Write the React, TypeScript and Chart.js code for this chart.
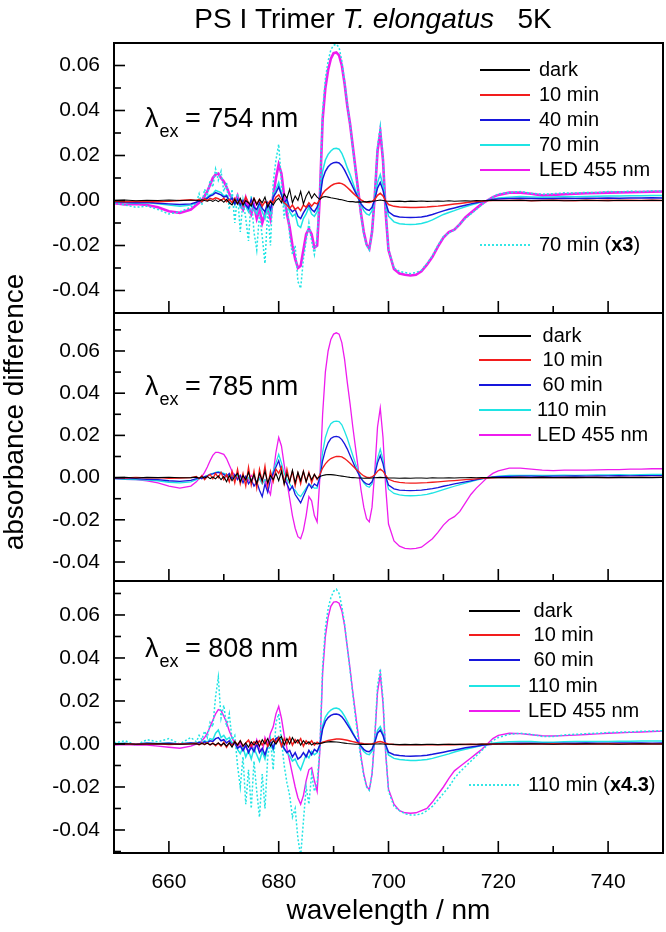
import React, { useEffect, useRef } from "react";
import { Chart, registerables } from "chart.js";

Chart.register(...registerables);

const FONT = "'Liberation Sans', Arial, Helvetica, sans-serif";

// ---------- shared axis data ----------
const WAVELENGTH = [
  650, 652, 654, 656, 658, 660, 662, 664,
  665, 665.5, 666, 666.5, 667, 667.5, 668, 668.5, 669, 669.5,
  670, 670.5, 671, 671.5, 672, 672.5, 673, 673.5, 674, 674.5,
  675, 675.5, 676, 676.5, 677, 677.5, 678, 678.5, 679, 679.5,
  680, 680.5, 681, 681.5, 682, 682.5, 683, 683.5, 684, 684.5,
  685, 685.5, 686, 686.5, 687, 687.5,
  688, 688.5, 689, 689.5, 690, 690.5, 691, 691.5, 692, 692.5,
  693, 693.5, 694, 694.5, 695, 695.5, 696, 696.5, 697, 697.5,
  698, 698.5, 699, 699.5, 700,
  701, 702, 703, 704, 705, 706, 707, 708, 709, 710,
  711, 712, 713, 714, 715, 716, 717, 718, 719, 720,
  722, 724, 726, 728, 730, 732, 734, 736, 738, 740, 742, 744, 746, 748, 750,
];
const X_TICKS = [660, 680, 700, 720, 740];
const X_MINOR = [670, 690, 710, 730];
const Y_TICKS = [-0.04, -0.02, 0, 0.02, 0.04, 0.06];
const Y_MINOR = [-0.05, -0.03, -0.01, 0.01, 0.03, 0.05, 0.07];
const X_RANGE = [650, 750];
const Y_RANGE_754 = [-0.05, 0.07];
const Y_RANGE_785 = [-0.049, 0.078];
const Y_RANGE_808 = [-0.0507, 0.0758];

// ---------- absorbance differences, in units of 1e-3 ----------
// λex = 754 nm
const EX754_DARK = [
  0, 0.2, -0.1, 0.1, 0, 0.2, 0, 0.1,
  0.1, -0.2, 0.3, 0, -0.3, 0.2, -0.4, 0.3, -0.5, 0.4,
  -0.8, 0.5, -1, -2, 0.5, -1.5, 1, -2, 0, -1,
  -2.5, 1, -2, 0.5, -1, 1.5, -3, -0.5, -2, 0,
  1, -1, 3, 1, 5, -1, 2, 0, 4, -1.5,
  2, 4, 1, 3, 1.5, 0.5,
  1.5, 1.8, 1.5, 1.2, 1, 0.8, 0.5, 0.3, 0, -0.3,
  -0.5, -0.5, -0.7, -0.6, -0.7, -0.5, -0.6, -0.4, -0.3, -0.2,
  0, 0.2, 0, -0.2, -0.3,
  -0.4, -0.3, -0.5, -0.3, -0.4, -0.2, -0.4, -0.3, -0.2, -0.3,
  -0.1, -0.3, -0.2, -0.1, -0.2, 0, -0.1, 0, 0.1, 0,
  0, 0.1, -0.1, 0, 0.1, -0.1, 0, 0.1, 0, -0.1, 0.1, 0, 0, 0.1, 0,
];
const EX754_10MIN = [
  -0.3, -0.5, -0.3, -0.4, -0.5, -0.3, 0, 0.3,
  0, 0.5, -0.5, 0.8, 0, 1, 0.5, 1.2, 0.8, 0,
  1, -0.5, 0.5, -1, 1, -1.5, 0.5, -2, 1.5, -1,
  -2, 1, -1.5, 0.5, -2.5, -0.5, -1.5, 0, -1, 1.5,
  2.5, 0.5, -1, -2, -3.5, -2, -4, -3, -4.5, -2,
  -3, -1, -2.5, -1, -1.5, 0.5,
  3, 4.5, 5.5, 6.5, 7.2, 7.6, 7.8, 7.5, 6.8, 5.8,
  4.6, 3.4, 2.2, 1.2, 0.3, -0.4, -0.8, -0.9, -0.5, 0.5,
  2.3, 3.2, 2, -0.2, -1.8,
  -2.6, -2.9, -3, -3.1, -3.1, -3, -2.9, -2.7, -2.5, -2.2,
  -1.9, -1.6, -1.3, -1, -0.7, -0.5, -0.3, -0.1, 0, 0,
  0, 0.1, -0.1, 0, 0.1, 0, -0.1, 0.1, 0, 0.1, 0, 0.1, 0, 0.1, 0,
];
const EX754_40MIN = [
  -0.5, -0.8, -1, -0.8, -1.2, -1.5, -1.8, -1.5,
  -0.8, 0, -0.5, 0.5, 1, 2, 2.5, 3.5, 3, 2.5,
  1.5, 2, 0, 1, -1.5, 0.5, -2, 0, -2, -3.5,
  0.5, -3, -4, -1, -3.5, -5, -1, -4, 1.5, 3.5,
  6, 2.5, -1, 0.5, -3.5, -5, -4, -7, -8, -5.5,
  -3.5, -2, -4, -5, -3, 1,
  9.5, 13, 15, 16.2, 16.8, 17, 16.7, 15.5, 13.5, 11,
  8.5, 6, 3.5, 1, -1.5, -3, -4, -4.4, -3, 0.5,
  5.5, 8, 4.5, -1, -5,
  -6.8, -7.3, -7.5, -7.6, -7.5, -7.3, -6.9, -6.2, -5.4, -4.6,
  -3.9, -3.3, -2.7, -2.1, -1.5, -1, -0.5, 0, 0.4, 0.7,
  0.9, 1, 0.9, 0.8, 0.9, 1, 0.9, 1, 1, 1.1, 1, 1.1, 1.1, 1.2, 1.1,
];
const EX754_70MIN = [
  -0.5, -1, -1.2, -1, -1.5, -2, -2.5, -2,
  -1, 0.5, -0.5, 1, 1.5, 2.5, 3, 4.5, 4, 3.5,
  2, 2.5, 0, 1.5, -2, 0.5, -3, -1, -2.5, -5,
  0, -4, -6, -2, -5, -8, -2, -6, 2, 5,
  8, 3, -2, 0, -5, -7, -6, -11, -12, -8,
  -6, -3, -6, -7, -5, 1,
  13, 18, 20.5, 22, 23, 23.2, 22.8, 21, 18, 14.5,
  11.5, 8, 4.5, 1, -2, -4.5, -6, -6.5, -4.5, 1,
  8, 11.5, 6.5, -1.5, -7,
  -9.5, -10.3, -10.6, -10.7, -10.6, -10.2, -9.6, -8.6, -7.4, -6.2,
  -5.3, -4.5, -3.6, -2.8, -2, -1.3, -0.6, 0, 0.6, 1.1,
  1.5, 1.8, 1.6, 1.5, 1.6, 1.8, 1.7, 1.8, 1.9, 2, 2, 2.1, 2.1, 2.2, 2.2,
];
const EX754_LED = [
  -1.2, -1.8, -1.5, -2, -3, -4.8, -5.5, -4,
  -2, -1, 0, 2, 4, 7, 10, 11.5, 12, 10,
  8.5, 6, 3, 1, -1, 2, -2, -4, 1, -3,
  -6, -2, -8, -4, -10, -6, -3, -8, 2, 10,
  16, 12, 2, -6, -12, -20, -26, -30, -29, -22,
  -15, -12.5, -15, -21, -20, 2,
  36, 50, 58, 63, 65.5, 65.8, 64.5, 60, 52, 42,
  34, 24, 14, 4, -6, -14, -19.5, -21.5, -14, 2,
  22, 30.5, 18, -6, -22,
  -30.5, -32.5, -33, -33.3, -33, -31.5, -28.5, -25, -20.5, -16.5,
  -14, -13, -10.5, -7.5, -5.5, -3.5, -1.5, 0, 1.5, 2.5,
  3.5, 3.5, 3, 2.3, 2.5, 2.8, 3, 3.2, 3.3, 3.5, 3.6, 3.7, 3.8, 3.9, 4,
];
const EX754_70MIN_X3 = [
  -1, -2, -3, -2.5, -4, -6, -5, -3,
  -1, 3, -2, 5, 2, 9, 6, 14, 9, 13,
  4, 8, -4, 5, -10, 3, -14, 0, -8, -18,
  2, -14, -22, -6, -16, -28, -4, -20, 8, 18,
  25, 8, -8, 2, -16, -24, -20, -36, -39, -26,
  -18, -10, -18, -24, -16, 4,
  40, 54, 62, 67, 69, 69.5, 68, 62, 53, 43,
  34, 23, 13, 3, -7, -15, -20, -22, -14, 3,
  24, 33, 19, -5, -22,
  -30, -31.5, -32, -32.5, -32, -31, -28, -24.5, -20, -16,
  -14.5, -13, -10.5, -8, -6, -4, -2, 0, 1.5, 3,
  3.5, 4, 3.2, 2.8, 3, 3.4, 3.3, 3.6, 3.5, 4, 3.8, 4.2, 4, 4.3, 4.2,
];

// λex = 785 nm
const EX785_DARK = [
  0, 0.2, -0.2, 0.1, 0, 0.2, -0.1, 0,
  0.2, -0.3, 0.4, -0.2, 0.5, -0.5, 0.3, -0.6, 0.8, -1,
  0.5, -2, 1, -1.5, 0.5, 2, -2, 1, -1, 2.5,
  -2, 1.5, -3, 2, -1.5, 3, -2.5, 1, -1, 2,
  -1.5, 3, -3, 2, -2, 3.5, -2.5, 2.5, -1.5, 3,
  -2, 2, -1, 1.5, -0.5, 0.5,
  1, 1.3, 1.5, 1.4, 1.3, 1.1, 0.9, 0.7, 0.5, 0.3,
  0.1, 0, -0.1, -0.2, -0.2, -0.3, -0.2, -0.3, -0.2, -0.1,
  0, 0.1, 0, -0.1, -0.2,
  -0.2, -0.3, -0.2, -0.3, -0.2, -0.2, -0.3, -0.1, -0.2, -0.2,
  -0.1, -0.2, -0.1, -0.1, 0, -0.1, 0, 0, 0.1, 0,
  0, 0.1, 0, 0.1, 0, 0, 0.1, 0, 0.1, 0, 0.1, 0, 0.1, 0, 0.1,
];
const EX785_10MIN = [
  0, -0.2, 0.1, -0.1, 0, -0.3, -0.2, 0,
  0.5, -0.5, 1, -1, 0.5, 1.5, -0.5, 2, 0, 2.5,
  -1, 1.5, -2, 3, -2.5, 4, -3, 2, -4, 5,
  -3.5, 3, -5, 4, -2, 5.5, -4, 3, -2, 4,
  2, 5, -3, 4, -2, 3, -4, 2, -3, 3,
  -2, 2.5, -2.5, 1.5, -1, 1.5,
  4.5, 6.5, 8, 9, 9.6, 10, 10.1, 9.8, 9, 8,
  6.8, 5.5, 4.2, 3, 1.8, 0.8, 0.2, 0, 0.3, 1.3,
  3, 4, 3, 1, -0.8,
  -1.8, -2.3, -2.5, -2.6, -2.6, -2.5, -2.4, -2.2, -2, -1.8,
  -1.6, -1.4, -1.2, -1, -0.8, -0.6, -0.4, -0.2, -0.1, 0,
  0, 0.1, 0, 0.1, 0, 0.1, 0, 0.1, 0.1, 0, 0.1, 0.1, 0.1, 0.1, 0.1,
];
const EX785_60MIN = [
  -0.3, -0.5, -0.5, -0.8, -1, -1.5, -1.8, -1.3,
  -0.5, 0, -0.5, 0.5, 0.8, 1.5, 1.8, 2.2, 2.5, 2,
  1.5, 0.5, 2, -0.5, 1.5, -1, 1, -2.5, 0.5, -3,
  -1, -4, -2, -6, -9, -3, -7, -1, 2, 5,
  8, 3, -1, -3, -6, -4, -8, -10, -12, -9,
  -6, -3, -5, -3, -4, 0,
  8, 13, 16.5, 18.5, 19.3, 19.5, 19.2, 18, 16, 13.5,
  10.5, 7.5, 4.5, 2, -0.5, -2, -3, -3.3, -2, 1.5,
  7, 10.5, 6.5, 0.5, -3.5,
  -5.3, -5.9, -6.1, -6.2, -6.1, -5.9, -5.6, -5.2, -4.7, -4.1,
  -3.6, -3, -2.5, -2, -1.5, -1, -0.5, -0.1, 0.2, 0.4,
  0.6, 0.7, 0.7, 0.6, 0.7, 0.7, 0.8, 0.7, 0.8, 0.8, 0.9, 0.8, 0.9, 0.9, 0.9,
];
const EX785_110MIN = [
  -0.5, -0.8, -1, -1.2, -1.5, -2.2, -2.5, -2,
  -1, -0.5, 0, 0.5, 1, 1.5, 2, 2.5, 2.8, 2.5,
  2, 1.5, 0.5, 1, -0.5, 1, -1, 0.5, -1.5, 0,
  -2, 1, -2.5, -0.5, -3, -1, -2, 0, 3, 7,
  11, 7, 2, -1, -3, -5, -6, -8, -9, -7,
  -5, -3, -4, -5, -5, 1,
  12, 19, 23, 25.5, 26.5, 26.8, 26.5, 25, 22, 18.5,
  14.5, 10.5, 6.5, 3, 0, -2.5, -4, -4.6, -3, 1.5,
  9, 13.5, 8.5, 0, -5.5,
  -7.5, -8.2, -8.5, -8.6, -8.5, -8.3, -7.9, -7.3, -6.5, -5.7,
  -4.9, -4.1, -3.3, -2.6, -1.9, -1.2, -0.6, -0.1, 0.3, 0.7,
  1, 1.1, 1.1, 1, 1.1, 1.2, 1.1, 1.2, 1.3, 1.3, 1.4, 1.3, 1.4, 1.5, 1.5,
];
const EX785_LED = [
  -0.5, -0.8, -1, -1.5, -2.5, -4, -5, -4,
  -2, -0.5, 0.5, 2.5, 5, 8, 10.5, 12, 12, 11.5,
  11, 9, 6, 3, 1, 0, 1, -1, 0.5, -1.5,
  1, -0.5, -2, 0, -2.5, -1, -5, -8, 2, 12,
  19, 15, 6, -2, -10, -18, -24, -28, -29, -25,
  -18, -9, -11, -18, -21, 0,
  30, 50, 60, 65.5, 68, 68.6, 68, 64, 56, 45,
  35, 24, 14, 4, -6, -14, -19.5, -21, -14, 3,
  24, 33, 19, -5, -22,
  -30, -32.5, -33.5, -33.8, -33.5, -33, -31, -29, -26, -22.5,
  -20, -18.5, -16, -12, -8, -5, -2.5, 0, 2, 3.2,
  4.5, 4.5, 4, 3.5, 3.3, 3.5, 3.5, 3.5, 3.7, 3.8, 3.8, 4, 4, 4.2, 4.2,
];

// λex = 808 nm
const EX808_DARK = [
  0, 0.1, -0.1, 0, 0.1, 0, -0.1, 0,
  0.1, -0.2, 0.2, -0.1, 0.3, -0.3, 0.2, -0.4, 0.5, -0.6,
  0.3, -1, 0.5, -1.5, 1, -0.5, 1.5, -1, 0.5, -1.5,
  1, -0.5, 1.5, -1, 2, 0, 2.5, -1, 1.5, 0,
  2, 3.5, -0.5, 2.5, 0, 3, 0.5, 2, -0.5, 1.5,
  0, 1, -0.5, 0.5, 0, 0.3,
  0.5, 0.8, 1, 1.1, 1, 0.9, 0.8, 0.6, 0.4, 0.2,
  0.1, 0, -0.1, -0.1, -0.2, -0.1, -0.2, -0.1, -0.1, 0,
  0, 0.1, 0, -0.1, -0.1,
  -0.2, -0.3, -0.2, -0.3, -0.2, -0.3, -0.2, -0.2, -0.3, -0.2,
  -0.2, -0.1, -0.2, -0.1, -0.1, -0.1, 0, -0.1, 0, 0,
  0, 0, 0.1, 0, -0.1, 0, 0, 0.1, 0, 0, -0.1, 0, 0.1, 0, 0,
];
const EX808_10MIN = [
  0, 0.1, -0.1, 0, 0.1, -0.2, 0, 0.1,
  0.3, -0.4, 0.5, -0.3, 0.6, -0.5, 0.5, -0.8, 0.4, -1,
  0.8, -1.5, 0.5, -0.8, 1.2, -0.5, 1.5, -1, 0.5, 1.8,
  -1, 1, 0, 1.5, -0.5, 2, -1, 1.5, 2.5, 0.5,
  3, -1, 2.5, 0, 3, -0.5, 2, 0.5, 2.5, -1,
  1.5, 0, 1.5, -0.5, 0.8, 0,
  0.8, 1.2, 1.6, 1.9, 2.1, 2.3, 2.3, 2.2, 2, 1.7,
  1.4, 1.1, 0.8, 0.5, 0.3, 0.1, 0, 0, 0.1, 0.4,
  0.9, 1.1, 0.8, 0.3, 0,
  -0.2, -0.3, -0.3, -0.4, -0.3, -0.4, -0.3, -0.4, -0.3, -0.3,
  -0.2, -0.3, -0.2, -0.2, -0.1, -0.2, -0.1, 0, -0.1, 0,
  0, -0.1, 0, 0, 0.1, 0, -0.1, 0, 0, 0.1, 0, 0, 0.1, 0, 0,
];
const EX808_60MIN = [
  0, 0.2, -0.1, 0.3, 0.1, 0.3, 0, 0.4,
  0.2, 0.8, 0.3, 1, 0.5, 1.5, 1.2, 2.5, 3, 1.5,
  2, 0.5, 1.5, -0.5, 1, -2, -1, -3, -0.5, -4,
  -1.5, -3.5, 0, -4, -2, -5, -1, 1.5, -2, 2.5,
  3, 0, -2, -4, -3, -6, -4, -7, -6, -4,
  -6, -3, -5, -2.5, -3.5, -0.5,
  7, 10.5, 12.3, 13.3, 13.8, 13.9, 13.6, 12.6, 11, 9,
  7, 4.8, 2.7, 0.8, -1, -2.5, -3.4, -3.6, -2.4, 0.8,
  5, 6.5, 4, -0.5, -3.8,
  -5, -5.4, -5.6, -5.7, -5.6, -5.5, -5.2, -4.8, -4.3, -3.8,
  -3.3, -2.8, -2.3, -1.8, -1.4, -1, -0.6, -0.3, -0.1, 0.1,
  0.2, 0.3, 0.3, 0.2, 0.2, 0.3, 0.3, 0.4, 0.3, 0.4, 0.4, 0.4, 0.5, 0.4, 0.5,
];
const EX808_110MIN = [
  0.2, 0.3, -0.1, 0.4, 0.2, 0.5, 0, 0.6,
  0.3, 1, 0.5, 1.5, 0.8, 2.5, 2, 5, 6.5, 3,
  4, 2, 3, 0.5, 1, -2.5, -4.5, -1.5, -6, -3,
  -7, -2, -5, -8, -3.5, -7, -1.5, 0.5, -3, 2.5,
  3.5, 0.5, -2.5, -4, -5.5, -8, -7, -10, -12, -8.5,
  -5, -6.5, -3.5, -5, -4, -0.5,
  8.5, 12.5, 14.5, 15.8, 16.5, 16.7, 16.3, 15, 13, 10.5,
  8, 5.3, 2.8, 0.5, -1.6, -3.5, -4.6, -5, -3.3, 1,
  6.3, 8.1, 4.9, -1, -5.1,
  -6.7, -7.2, -7.5, -7.7, -7.7, -7.5, -7.2, -6.7, -6, -5.3,
  -4.6, -3.7, -3, -2.4, -1.9, -1.3, -0.7, -0.1, 0.3, 0.7,
  1, 1.2, 1.1, 0.8, 0.8, 1, 1.1, 1.1, 1.2, 1.2, 1.3, 1.3, 1.4, 1.4, 1.4,
];
const EX808_LED = [
  -0.5, -0.3, -0.5, -0.5, -1, -1.5, -2, -1,
  0, 0.5, 1.5, 3, 5, 8, 11, 14, 16, 15.5,
  13, 10, 6, 3, 0, -2, 1, -3, -1, -4,
  0, -3, 2, -2, -4, 3, 0, 5, 8, 14,
  17.5, 12, 4, -2, -8, -14, -20, -25, -28, -24,
  -17, -12, -11, -17, -22, -3,
  33, 50, 59, 64, 66, 66.2, 65.5, 62, 55, 45,
  35, 24, 14, 4, -6, -14, -19.5, -21.4, -14, 3,
  24, 32.6, 19, -5, -21,
  -28, -31, -32, -32.2, -32, -31, -30, -27, -23.5, -20,
  -16, -12.5, -10.5, -8.5, -6.5, -4.5, -2.5, 0, 2.5, 4,
  5, 4.8, 4.3, 3.8, 3.7, 3.9, 4.1, 4.4, 4.7, 5, 5.2, 5.4, 5.6, 5.8, 6,
];
const EX808_110MIN_X43 = [
  0.5, 1.5, -0.5, 2, 1, 2.5, 0, 3,
  1, 4, 2, 6, 3, 10, 8, 22, 31, 12,
  18, 8, 14, 2, 4, -10, -20, -6, -28, -12,
  -30, -8, -22, -34, -14, -30, -6, 2, -12, 10,
  14, 2, -10, -18, -24, -34, -30, -44, -52, -36,
  -20, -28, -14, -22, -18, -2,
  36, 54, 63, 68, 71, 72, 70, 64, 56, 45,
  34, 23, 12, 2, -7, -15, -20, -21.5, -14, 4,
  27, 35, 21, -4, -22,
  -29, -31, -32.5, -33, -33, -32.5, -31, -29, -26, -23,
  -20, -16, -13, -10.5, -8, -5.5, -3, -0.5, 1.5, 3,
  4.5, 5, 4.5, 3.5, 3.5, 4.2, 4.5, 4.8, 5, 5.3, 5.5, 5.6, 5.9, 6, 6.2,
];

// ---------- styles ----------
const C_DARK = "#000000";
const C_RED = "#f21d1d";
const C_BLUE = "#1717dc";
const C_CYAN = "#1fe4e4";
const C_MAG = "#ee1cee";

const PANELS = [
  {
    key: "p754",
    range: Y_RANGE_754,
    padTop: 43,
    padBottom: 932 - 313,
    showX: false,
    series: [
      { label: "dark", values: EX754_DARK, color: C_DARK, width: 1.1, order: 0 },
      { label: "10 min", values: EX754_10MIN, color: C_RED, width: 1.5, order: 1 },
      { label: "40 min", values: EX754_40MIN, color: C_BLUE, width: 1.5, order: 2 },
      { label: "70 min", values: EX754_70MIN, color: C_CYAN, width: 1.5, order: 3 },
      { label: "70 min (x3)", values: EX754_70MIN_X3, color: C_CYAN, width: 1.5, dash: [2, 2], order: 4 },
      { label: "LED 455 nm", values: EX754_LED, color: C_MAG, width: 2.6, order: 5 },
    ],
    lambda: { x: 145, y: 127, value: "754 nm" },
    legend: {
      x1: 480, x2: 530, tx: 539,
      items: [
        { text: "dark", color: C_DARK, y: 70 },
        { text: "10 min", color: C_RED, y: 95 },
        { text: "40 min", color: C_BLUE, y: 120 },
        { text: "70 min", color: C_CYAN, y: 145 },
        { text: "LED 455 nm", color: C_MAG, y: 170 },
        { text: "70 min (", bold: "x3", tail: ")", color: C_CYAN, y: 245, dash: [2, 2] },
      ],
    },
    title: true,
    yTitle: false,
  },
  {
    key: "p785",
    range: Y_RANGE_785,
    padTop: 313,
    padBottom: 932 - 581,
    showX: false,
    series: [
      { label: "dark", values: EX785_DARK, color: C_DARK, width: 1.1, order: 0 },
      { label: "10 min", values: EX785_10MIN, color: C_RED, width: 1.3, order: 1 },
      { label: "60 min", values: EX785_60MIN, color: C_BLUE, width: 1.3, order: 2 },
      { label: "110 min", values: EX785_110MIN, color: C_CYAN, width: 1.3, order: 3 },
      { label: "LED 455 nm", values: EX785_LED, color: C_MAG, width: 1.3, order: 4 },
    ],
    lambda: { x: 145, y: 395, value: "785 nm" },
    legend: {
      x1: 479, x2: 531, tx: 537,
      items: [
        { text: " dark", color: C_DARK, y: 336 },
        { text: " 10 min", color: C_RED, y: 360 },
        { text: " 60 min", color: C_BLUE, y: 385 },
        { text: "110 min", color: C_CYAN, y: 410 },
        { text: "LED 455 nm", color: C_MAG, y: 435 },
      ],
    },
    title: false,
    yTitle: true,
  },
  {
    key: "p808",
    range: Y_RANGE_808,
    padTop: 581,
    padBottom: 0,
    showX: true,
    series: [
      { label: "dark", values: EX808_DARK, color: C_DARK, width: 1.1, order: 0 },
      { label: "10 min", values: EX808_10MIN, color: C_RED, width: 1.5, order: 1 },
      { label: "60 min", values: EX808_60MIN, color: C_BLUE, width: 1.5, order: 2 },
      { label: "110 min", values: EX808_110MIN, color: C_CYAN, width: 1.5, order: 3 },
      { label: "110 min (x4.3)", values: EX808_110MIN_X43, color: C_CYAN, width: 1.5, dash: [2, 2], order: 4 },
      { label: "LED 455 nm", values: EX808_LED, color: C_MAG, width: 1.4, order: 5 },
    ],
    lambda: { x: 145, y: 657, value: "808 nm" },
    legend: {
      x1: 469, x2: 520, tx: 528,
      items: [
        { text: " dark", color: C_DARK, y: 611 },
        { text: " 10 min", color: C_RED, y: 635 },
        { text: " 60 min", color: C_BLUE, y: 660 },
        { text: "110 min", color: C_CYAN, y: 686 },
        { text: "LED 455 nm", color: C_MAG, y: 711 },
        { text: "110 min (", bold: "x4.3", tail: ")", color: C_CYAN, y: 785, dash: [2, 2] },
      ],
    },
    title: false,
    yTitle: false,
  },
];

function decorPlugin(cfg: any) {
  return {
    id: "decor_" + cfg.key,
    afterDraw(chart: any) {
      const { ctx, chartArea: a, scales } = chart;
      const xs = scales.x;
      const ys = scales.y;
      ctx.save();
      // frame
      ctx.strokeStyle = "#000";
      ctx.lineWidth = 2;
      ctx.setLineDash([]);
      ctx.strokeRect(a.left, a.top, a.right - a.left, a.bottom - a.top);
      // inward ticks
      ctx.lineWidth = 1.6;
      const hline = (py: number, len: number) => {
        if (py < a.top + 1 || py > a.bottom - 1) return;
        ctx.beginPath();
        ctx.moveTo(a.left, py);
        ctx.lineTo(a.left + len, py);
        ctx.stroke();
      };
      const vline = (px: number, len: number) => {
        if (px < a.left + 1 || px > a.right - 1) return;
        ctx.beginPath();
        ctx.moveTo(px, a.bottom);
        ctx.lineTo(px, a.bottom - len);
        ctx.stroke();
      };
      Y_TICKS.forEach((v) => hline(ys.getPixelForValue(v), 11));
      Y_MINOR.forEach((v) => hline(ys.getPixelForValue(v), 7));
      X_TICKS.forEach((v) => vline(xs.getPixelForValue(v), 12));
      X_MINOR.forEach((v) => vline(xs.getPixelForValue(v), 7));

      // λex label
      ctx.fillStyle = "#000";
      ctx.textAlign = "left";
      ctx.textBaseline = "alphabetic";
      const L = cfg.lambda;
      ctx.font = `27px ${FONT}`;
      ctx.fillText("λ", L.x, L.y);
      const lw = ctx.measureText("λ").width;
      ctx.font = `18px ${FONT}`;
      ctx.fillText("ex", L.x + lw + 1, L.y + 10);
      ctx.font = `27px ${FONT}`;
      ctx.fillText("= " + L.value, L.x + 40, L.y);

      // legend
      const G = cfg.legend;
      ctx.textBaseline = "middle";
      G.items.forEach((it: any) => {
        ctx.strokeStyle = it.color;
        ctx.lineWidth = 1.8;
        ctx.setLineDash(it.dash || []);
        ctx.beginPath();
        ctx.moveTo(G.x1, it.y);
        ctx.lineTo(G.x2, it.y);
        ctx.stroke();
        ctx.setLineDash([]);
        ctx.fillStyle = "#000";
        ctx.font = `20px ${FONT}`;
        ctx.fillText(it.text, G.tx, it.y);
        if (it.bold) {
          let x = G.tx + ctx.measureText(it.text).width;
          ctx.font = `bold 20px ${FONT}`;
          ctx.fillText(it.bold, x, it.y);
          x += ctx.measureText(it.bold).width;
          ctx.font = `20px ${FONT}`;
          ctx.fillText(it.tail, x, it.y);
        }
      });

      // main title
      if (cfg.title) {
        const parts = [
          { t: "PS I Trimer ", f: `28px ${FONT}` },
          { t: "T. elongatus", f: `italic 28px ${FONT}` },
          { t: "   5K", f: `28px ${FONT}` },
        ];
        let total = 0;
        parts.forEach((p) => {
          ctx.font = p.f;
          total += ctx.measureText(p.t).width;
        });
        let x = 373 - total / 2;
        ctx.textBaseline = "alphabetic";
        parts.forEach((p) => {
          ctx.font = p.f;
          ctx.fillText(p.t, x, 28);
          x += ctx.measureText(p.t).width;
        });
      }

      // y-axis title
      if (cfg.yTitle) {
        ctx.save();
        ctx.translate(23, 412);
        ctx.rotate(-Math.PI / 2);
        ctx.font = `28px ${FONT}`;
        ctx.textAlign = "center";
        ctx.textBaseline = "alphabetic";
        ctx.fillText("absorbance difference", 0, 0);
        ctx.restore();
      }
      ctx.restore();
    },
  };
}

function buildConfig(cfg: any) {
  return {
    type: "line",
    data: {
      datasets: cfg.series.map((s: any) => ({
        label: s.label,
        data: WAVELENGTH.map((w, i) => ({ x: w, y: s.values[i] / 1000 })),
        borderColor: s.color,
        backgroundColor: s.color,
        borderWidth: s.width,
        borderDash: s.dash || [],
        pointRadius: 0,
        fill: false,
        tension: 0,
        order: s.order,
      })),
    },
    options: {
      responsive: false,
      animation: false,
      devicePixelRatio: 1,
      events: [],
      layout: { padding: { top: cfg.padTop, bottom: cfg.padBottom, left: 0, right: 3 } },
      plugins: {
        legend: { display: false },
        tooltip: { enabled: false },
        title: { display: false },
      },
      scales: {
        x: {
          type: "linear",
          min: X_RANGE[0],
          max: X_RANGE[1],
          display: cfg.showX,
          afterBuildTicks: (sc: any) => {
            sc.ticks = X_TICKS.map((v) => ({ value: v }));
          },
          afterFit: (sc: any) => {
            sc.height = cfg.showX ? 79 : 0;
          },
          grid: { display: false, drawTicks: false },
          border: { display: false },
          ticks: {
            color: "#000",
            font: { family: FONT, size: 21 },
            padding: 17,
            maxRotation: 0,
            autoSkip: false,
          },
          title: {
            display: true,
            text: "wavelength / nm",
            color: "#000",
            font: { family: FONT, size: 28 },
            padding: { top: 0, bottom: 4 },
          },
        },
        y: {
          type: "linear",
          position: "left",
          min: cfg.range[0],
          max: cfg.range[1],
          afterBuildTicks: (sc: any) => {
            sc.ticks = Y_TICKS.map((v) => ({ value: v }));
          },
          afterFit: (sc: any) => {
            sc.width = 114;
          },
          grid: { display: false, drawTicks: false },
          border: { display: false },
          ticks: {
            color: "#000",
            font: { family: FONT, size: 21 },
            padding: 14,
            autoSkip: false,
            callback: (v: any) => Number(v).toFixed(2),
          },
        },
      },
    },
    plugins: [decorPlugin(cfg)],
  };
}

function PanelChart({ cfg }: { cfg: any }) {
  const ref = useRef<HTMLCanvasElement | null>(null);
  useEffect(() => {
    if (!ref.current) return;
    const chart = new Chart(ref.current, buildConfig(cfg) as any);
    return () => chart.destroy();
  }, [cfg]);
  return (
    <canvas
      ref={ref}
      width={666}
      height={932}
      style={{ position: "absolute", left: 0, top: 0, width: 666, height: 932 }}
    />
  );
}

export default function App() {
  return (
    <div
      style={{
        position: "absolute",
        left: 0,
        top: 0,
        width: 666,
        height: 932,
        background: "#fff",
        overflow: "hidden",
      }}
    >
      {PANELS.map((p) => (
        <PanelChart key={p.key} cfg={p} />
      ))}
    </div>
  );
}
